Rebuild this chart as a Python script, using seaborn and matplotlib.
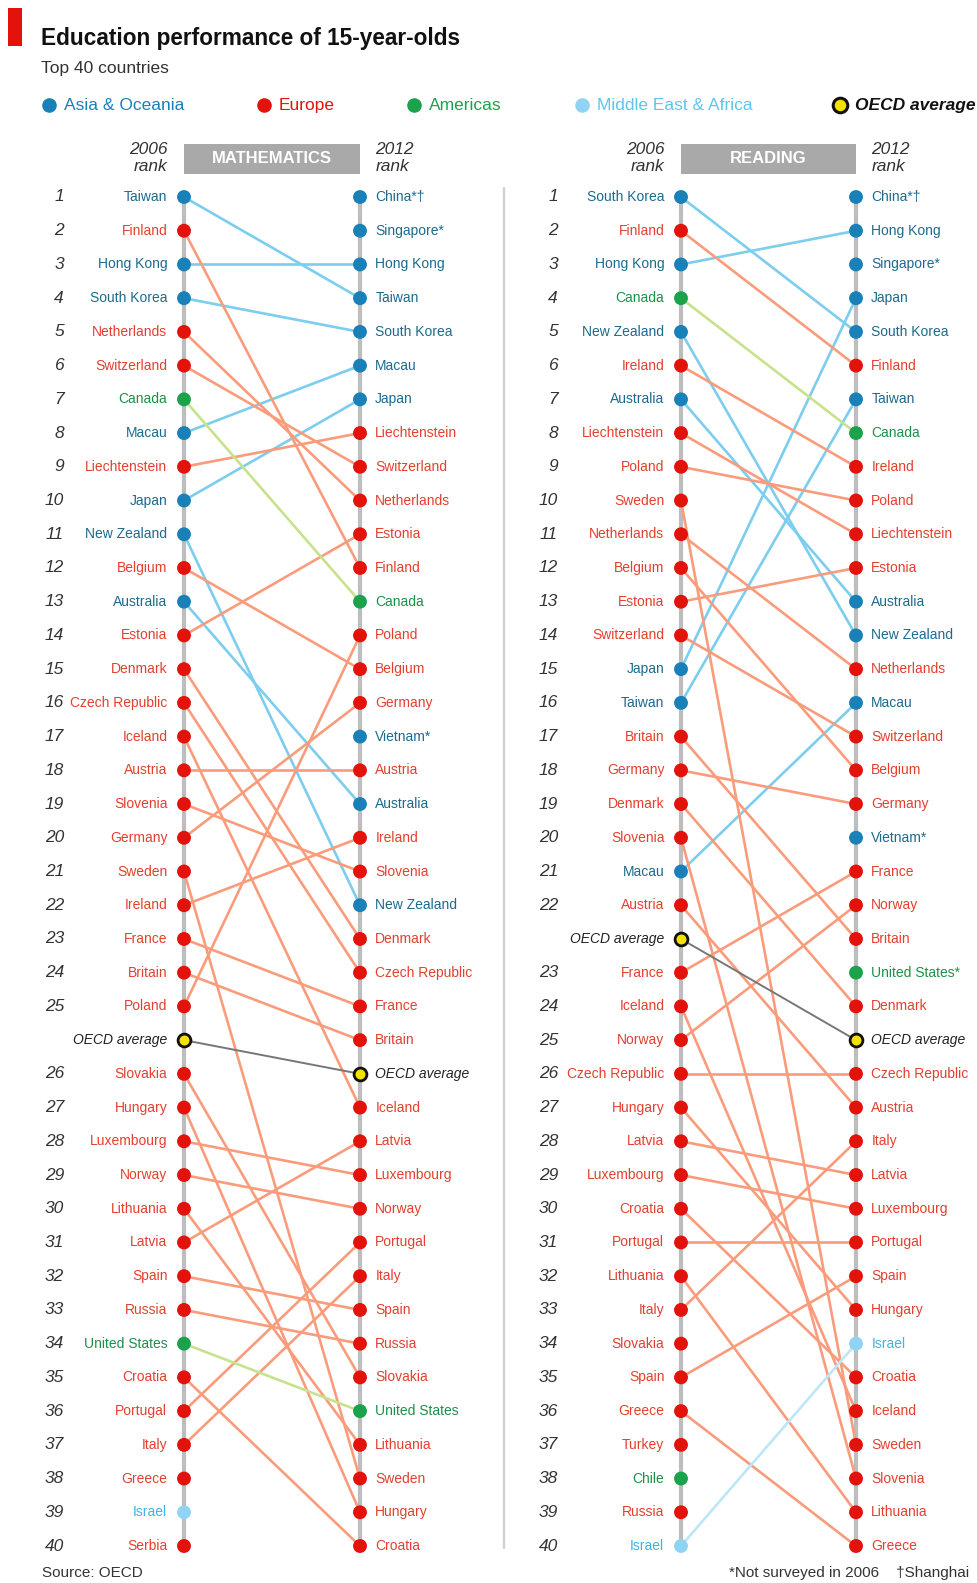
import pandas as pd
import seaborn as sns
import matplotlib.pyplot as plt
from matplotlib.patches import Rectangle

# Rankings, top to bottom, with the OECD average in its slot
math_2006 = ["Taiwan", "Finland", "Hong Kong", "South Korea", "Netherlands", "Switzerland",
             "Canada", "Macau", "Liechtenstein", "Japan", "New Zealand", "Belgium", "Australia",
             "Estonia", "Denmark", "Czech Republic", "Iceland", "Austria", "Slovenia", "Germany",
             "Sweden", "Ireland", "France", "Britain", "Poland", "OECD average", "Slovakia",
             "Hungary", "Luxembourg", "Norway", "Lithuania", "Latvia", "Spain", "Russia",
             "United States", "Croatia", "Portugal", "Italy", "Greece", "Israel", "Serbia"]
math_2012 = ["China*†", "Singapore*", "Hong Kong", "Taiwan", "South Korea", "Macau", "Japan",
             "Liechtenstein", "Switzerland", "Netherlands", "Estonia", "Finland", "Canada",
             "Poland", "Belgium", "Germany", "Vietnam*", "Austria", "Australia", "Ireland",
             "Slovenia", "New Zealand", "Denmark", "Czech Republic", "France", "Britain",
             "OECD average", "Iceland", "Latvia", "Luxembourg", "Norway", "Portugal", "Italy",
             "Spain", "Russia", "Slovakia", "United States", "Lithuania", "Sweden", "Hungary",
             "Croatia"]
reading_2006 = ["South Korea", "Finland", "Hong Kong", "Canada", "New Zealand", "Ireland",
                "Australia", "Liechtenstein", "Poland", "Sweden", "Netherlands", "Belgium",
                "Estonia", "Switzerland", "Japan", "Taiwan", "Britain", "Germany", "Denmark",
                "Slovenia", "Macau", "Austria", "OECD average", "France", "Iceland", "Norway",
                "Czech Republic", "Hungary", "Latvia", "Luxembourg", "Croatia", "Portugal",
                "Lithuania", "Italy", "Slovakia", "Spain", "Greece", "Turkey", "Chile", "Russia",
                "Israel"]
reading_2012 = ["China*†", "Hong Kong", "Singapore*", "Japan", "South Korea", "Finland", "Taiwan",
                "Canada", "Ireland", "Poland", "Liechtenstein", "Estonia", "Australia",
                "New Zealand", "Netherlands", "Macau", "Switzerland", "Belgium", "Germany",
                "Vietnam*", "France", "Norway", "Britain", "United States*", "Denmark",
                "OECD average", "Czech Republic", "Austria", "Italy", "Latvia", "Luxembourg",
                "Portugal", "Spain", "Hungary", "Israel", "Croatia", "Iceland", "Sweden",
                "Slovenia", "Lithuania", "Greece"]

asia = ["Taiwan", "Hong Kong", "South Korea", "Macau", "Japan", "New Zealand", "Australia",
        "China", "Singapore", "Vietnam"]
americas = ["Canada", "United States", "Chile"]
mideast = ["Israel"]

dot_colors = {"Asia": "#1a80b8", "Europe": "#e3120b", "Americas": "#1ba24b",
              "MidEast": "#8fd5f3", "OECD": "#f2e200"}
line_colors = {"Asia": "#7ccdee", "Europe": "#fa9c7b", "Americas": "#c8e28c",
               "MidEast": "#bde6f7", "OECD": "#777777"}
text_colors = {"Asia": "#1d6a8e", "Europe": "#e3402f", "Americas": "#1e8f47",
               "MidEast": "#3fb3e4", "OECD": "#222222"}

W, H = 978, 1583
Y0, Y40 = 197, 1546

sns.set_style("white")
plt.rcParams["font.family"] = ["Liberation Sans Narrow", "Liberation Sans", "DejaVu Sans"]


def region_of(key):
    if key == "OECD average":
        return "OECD"
    if key in asia:
        return "Asia"
    if key in americas:
        return "Americas"
    if key in mideast:
        return "MidEast"
    return "Europe"


def side_frame(names, x):
    keys = [n.rstrip("*†") for n in names]
    return pd.DataFrame({"slot": range(len(names)), "name": names, "key": keys,
                         "region": [region_of(k) for k in keys], "x": x})


def px_to_slot(py):
    return (py - Y0) / (Y40 - Y0) * 40


def draw_panel(x0, x1, left_names, right_names, title, rank_px):
    ax = fig.add_axes([x0 / W, 1 - Y40 / H, (x1 - x0) / W, (Y40 - Y0) / H])
    left = side_frame(left_names, 0)
    right = side_frame(right_names, 1)
    both = pd.concat([left, right], ignore_index=True)

    ax.vlines([0, 1], 0, 40, color="#bdbdbd", lw=3, zorder=1, clip_on=False)

    shared = set(left.key) & set(right.key)
    links = both[both.key.isin(shared)]
    sns.lineplot(data=links[links.region != "OECD"], x="x", y="slot", units="key",
                 estimator=None, hue="region", palette=line_colors, legend=False,
                 lw=1.9, ax=ax, clip_on=False, zorder=2)
    sns.lineplot(data=links[links.region == "OECD"], x="x", y="slot", units="key",
                 estimator=None, color=line_colors["OECD"], lw=1.4, ax=ax,
                 clip_on=False, zorder=2)

    sns.scatterplot(data=both[both.region != "OECD"], x="x", y="slot", hue="region",
                    palette=dot_colors, s=100, linewidth=0, legend=False, ax=ax,
                    clip_on=False, zorder=3)
    sns.scatterplot(data=both[both.region == "OECD"], x="x", y="slot",
                    color=dot_colors["OECD"], edgecolor="#111111", linewidth=2, s=85,
                    ax=ax, clip_on=False, zorder=4)

    rank = 0
    for r in left.itertuples():
        oecd = r.region == "OECD"
        ax.annotate(r.name, (0, r.slot), xytext=(-12, 0), textcoords="offset points",
                    ha="right", va="center", fontsize=10, color=text_colors[r.region],
                    style="italic" if oecd else "normal", annotation_clip=False)
        if not oecd:
            rank += 1
            ax.annotate(str(rank), (0, r.slot), xytext=((rank_px - x0) * 0.72, 0),
                        textcoords="offset points", ha="right", va="center",
                        fontsize=12.5, style="italic", color="#333333",
                        annotation_clip=False)
    for r in right.itertuples():
        ax.annotate(r.name, (1, r.slot), xytext=(11, 0), textcoords="offset points",
                    ha="left", va="center", fontsize=10, color=text_colors[r.region],
                    style="italic" if r.region == "OECD" else "normal",
                    annotation_clip=False)

    # header
    top, bot = px_to_slot(144), px_to_slot(174)
    ax.add_patch(Rectangle((0, bot), 1, top - bot, color="#a9a9a9", clip_on=False, lw=0))
    ax.text(0.5, (top + bot) / 2, title, ha="center", va="center", color="white",
            fontsize=12, fontweight="bold")
    upper, lower = px_to_slot(150), px_to_slot(167)
    for x, dx, ha, year in ((0, -12, "right", "2006"), (1, 11, "left", "2012")):
        ax.annotate(year, (x, upper), xytext=(dx, 0), textcoords="offset points",
                    ha=ha, va="center", fontsize=12.5, style="italic", color="#333333",
                    annotation_clip=False)
        ax.annotate("rank", (x, lower), xytext=(dx, 0), textcoords="offset points",
                    ha=ha, va="center", fontsize=12.5, style="italic", color="#333333",
                    annotation_clip=False)

    ax.set_xlim(0, 1)
    ax.set_ylim(40, 0)
    ax.axis("off")
    return ax


fig = plt.figure(figsize=(W / 100, H / 100), dpi=100)
bg = fig.add_axes([0, 0, 1, 1])
bg.set_xlim(0, W)
bg.set_ylim(H, 0)
bg.axis("off")

bg.add_patch(Rectangle((8, 8), 14, 38, color="#e3120b", lw=0))
bg.text(41, 38, "Education performance of 15-year-olds", fontsize=16.3, fontweight="bold",
        color="#111111", va="center")
bg.text(41, 68, "Top 40 countries", fontsize=12.5, color="#333333", va="center")

legend_items = [("Asia & Oceania", "Asia", 49), ("Europe", "Europe", 264),
                ("Americas", "Americas", 414), ("Middle East & Africa", "MidEast", 582),
                ("OECD average", "OECD", 840)]
for label, reg, lx in legend_items:
    if reg == "OECD":
        bg.scatter([lx], [105], s=110, color=dot_colors[reg], edgecolor="#111111", lw=2.2)
        bg.text(lx + 15, 105, label, fontsize=12.5, color="#111111", style="italic",
                fontweight="bold", va="center")
    else:
        bg.scatter([lx], [105], s=110, color=dot_colors[reg], lw=0)
        bg.text(lx + 15, 105, label, fontsize=12.5, color=dot_colors[reg] if reg != "MidEast"
                else "#5cc6f0", va="center")

bg.plot([504, 504], [188, 1548], color="#d0d0d0", lw=1.6)

draw_panel(184, 360, math_2006, math_2012, "MATHEMATICS", 64)
draw_panel(681, 856, reading_2006, reading_2012, "READING", 558)

bg.text(42, 1573, "Source: OECD", fontsize=11, color="#333333", va="center")
bg.text(969, 1573, "*Not surveyed in 2006    †Shanghai", fontsize=11, color="#333333",
        va="center", ha="right")

fig.savefig("out.png", dpi=100)
